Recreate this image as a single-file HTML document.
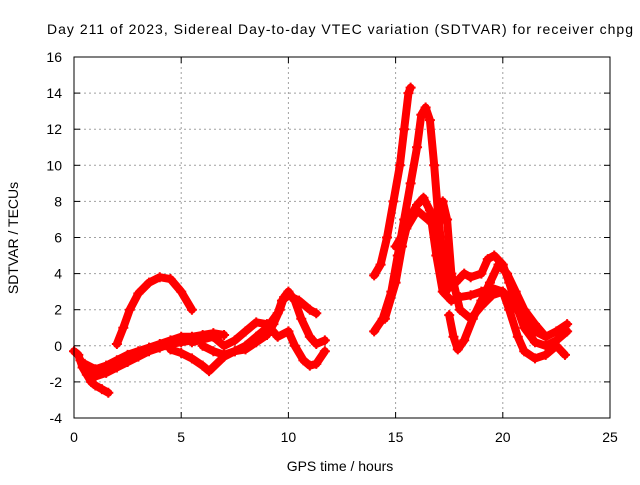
<!DOCTYPE html>
<html><head><meta charset="utf-8"><style>
body{margin:0;background:#fff}
svg text{font-family:"Liberation Sans",sans-serif;font-size:14px;fill:#000}
</style></head><body>
<svg id="c" width="640" height="480" xmlns="http://www.w3.org/2000/svg">
<rect width="640" height="480" fill="#fff"/>
<text x="47" y="34" textLength="586" lengthAdjust="spacing">Day 211 of 2023, Sidereal Day-to-day VTEC variation (SDTVAR) for receiver chpg</text>
<text x="340" y="471" text-anchor="middle">GPS time / hours</text>
<text transform="translate(18,238) rotate(-90)" text-anchor="middle">SDTVAR / TECUs</text>
<g id="grid"></g><g id="ticks"></g><g id="series"></g>
<rect x="74" y="57" width="536" height="361" fill="none" stroke="#000" stroke-width="1"/>
</svg>
<script>
const xTicks=[0,5,10,15,20,25];
const yTicks=[-4,-2,0,2,4,6,8,10,12,14,16];
const trackA=[[0,-0.3],[0.2,-0.5],[0.4,-1.2],[0.6,-1.6],[0.8,-2],[1,-2.2],[1.3,-2.4],[1.6,-2.6]];
const trackB=[[0.3,-0.8],[0.6,-1.5],[1,-1.7],[1.5,-1.5],[2,-1.2],[2.5,-0.9],[3,-0.6],[3.5,-0.3],[4,-0.1],[4.5,0.1],[5,0.2],[5.5,0.3]];
const trackC=[[0.5,-1],[1,-1.3],[1.5,-1.1],[2,-0.8],[2.5,-0.5],[3,-0.3],[3.5,-0.1],[4,0.1],[4.5,0.3],[5,0.5],[5.5,0.5],[6,0.6],[6.5,0.7],[7,0.6]];
const hump=[[2,0.1],[2.3,1],[2.6,2],[3,2.9],[3.5,3.5],[4,3.8],[4.5,3.7],[5,3],[5.5,2]];
const trackD=[[4.5,-0.2],[5,-0.4],[5.5,-0.7],[6,-1.1],[6.3,-1.4],[7,-0.6],[7.5,-0.3],[8,-0.2],[8.5,0.2],[9,0.6],[9.3,1.2],[9.6,2],[9.8,2.7],[10,3],[10.3,2.5],[10.6,1.5],[11,0.5],[11.3,0.1],[11.7,0.3]];
const trackE=[[6,0],[6.5,-0.3],[7,-0.5],[7.5,-0.3],[8,0],[8.5,0.5],[9,1],[9.5,1.8],[9.7,2.5],[10,2.8],[10.5,2.5],[11,2],[11.3,1.8]];
const trackF=[[5.5,0.2],[6.5,0.5],[7,0],[7.5,0.3],[8,0.8],[8.5,1.3],[9,1.2],[9.5,0.5],[10,0.8],[10.3,0],[10.7,-0.8],[11,-1.1],[11.3,-1],[11.7,-0.3]];
const trackG=[[14,3.9],[14.3,4.5],[14.6,6],[14.9,8],[15.2,10],[15.4,12],[15.6,14],[15.7,14.3]];
const trackH=[[14,0.8],[14.4,1.5],[14.8,3],[15.1,5],[15.4,7],[15.7,9],[16,11],[16.2,12.8],[16.4,13.2],[16.6,12.5],[16.8,10],[17,7],[17.2,5],[17.5,3.2],[17.8,3.5],[18.2,4],[18.5,3.8],[19,4],[19.3,4.8],[19.6,5],[20,4.5],[20.3,3.5],[20.7,2],[21,1],[21.5,0.2],[22,0],[22.5,0.3],[23,0.8]];
const trackI=[[14.5,1.5],[15,3.5],[15.3,5.5],[15.6,7],[16,7.8],[16.3,8.2],[16.6,7.5],[16.9,5],[17.2,3],[17.6,2.5],[18,2.7],[18.5,2.8],[19,3],[19.5,3.2],[20,3],[20.5,2.3],[21,1.4],[21.5,0.8],[22,0.5],[22.5,0.8],[23,1.2]];
const trackJ=[[15,5.5],[15.5,6.5],[16,7.5],[16.5,7],[17,6.5],[17.2,8],[17.4,7],[17.6,4],[18,2],[18.5,1.5],[19,2.2],[19.5,2.8],[20,3],[20.3,2],[20.7,0.5],[21,-0.3],[21.5,-0.7],[22,-0.5],[22.5,0],[22.9,-0.5]];
const trackK=[[17.5,1.7],[17.7,0.5],[17.9,-0.2],[18.2,0.3],[18.6,1.5],[19,2.5],[19.4,3.5],[19.8,4.5],[20.2,4],[20.6,3],[21,2],[21.5,1.2],[22,0.5]];
const tracks=[trackA,trackB,trackC,hump,trackD,trackE,trackF,trackG,trackH,trackI,trackJ,trackK];
const X0=74,X1=610,Y0=418,Y1=57;
const sx=v=>X0+(v-0)/(25-0)*(X1-X0);
const sy=v=>Y0-(v+4)/(16+4)*(Y0-Y1);
const NS='http://www.w3.org/2000/svg';
const grid=document.getElementById('grid'),ticks=document.getElementById('ticks'),ser=document.getElementById('series');
function mk(tag,at,p){const e=document.createElementNS(NS,tag);for(const k in at)e.setAttribute(k,at[k]);p.appendChild(e);return e;}
xTicks.forEach(t=>{const x=sx(t);
 if(t>0&&t<25){const g=mk('line',{x1:x,x2:x,y1:Y1,y2:Y0,stroke:'#a0a0a0','stroke-dasharray':'2,3'},grid);
 
 }
 mk('line',{x1:x,x2:x,y1:Y0,y2:Y0-6,stroke:'#000'},ticks);mk('line',{x1:x,x2:x,y1:Y1,y2:Y1+6,stroke:'#000'},ticks);
 const l=mk('text',{x:x,y:Y0+24,'text-anchor':'middle'},ticks);l.textContent=t;
 
 });
yTicks.forEach(t=>{const y=sy(t);
 if(t>-4&&t<16){const g=mk('line',{x1:X0,x2:X1,y1:y,y2:y,stroke:'#a0a0a0','stroke-dasharray':'2,3'},grid);
 
 }
 mk('line',{x1:X0,x2:X0+6,y1:y,y2:y,stroke:'#000'},ticks);mk('line',{x1:X1,x2:X1-6,y1:y,y2:y,stroke:'#000'},ticks);
 const l=mk('text',{x:X0-12,y:y+5,'text-anchor':'end'},ticks);l.textContent=t;
 
 });
tracks.forEach(tr=>{
 const pl=mk('polyline',{points:tr.map(p=>sx(p[0])+','+sy(p[1])).join(' '),fill:'none',stroke:'#ff0000','stroke-width':8,'stroke-linejoin':'round','stroke-linecap':'round'},ser);
 
 
 tr.forEach(p=>{const x=sx(p[0]),y=sy(p[1]);
  const m=mk('path',{d:`M${x-5},${y}H${x+5}M${x},${y-5}V${y+5}`,stroke:'#ff0000','stroke-width':2},ser);
  
  });
});
</script>
</body></html>
